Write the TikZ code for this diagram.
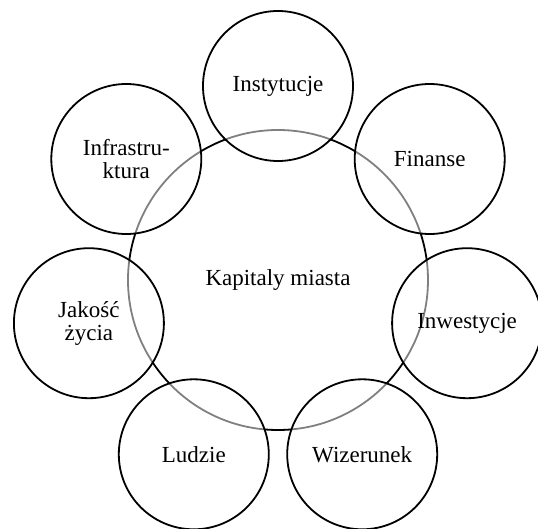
\documentclass[tikz,border=0pt]{standalone}
\usepackage{fontspec}
\setmainfont{Liberation Serif}
\usepackage{tikz}

\tikzset{
  ring/.style={circle, draw=black, line width=1.8pt, minimum size=300pt, inner sep=0pt},
  part/.style={circle, draw=black, line width=1.8pt, minimum size=150pt, inner sep=0pt,
    fill=white, fill opacity=0.5, text opacity=1, align=center},
}

\begin{document}
\begin{tikzpicture}[x=1pt, y=-1pt, font=\fontsize{23}{23}\selectfont]
\useasboundingbox (0,0) rectangle (538,529); %page

\node[ring] (kapitaly) at (278,280) {Kapitaly miasta}; %big circle behind

\node[part] (instytucje) at (278,86) {Instytucje};
\node[part] (finanse) at (429.7,159) {Finanse};
\node[part] (inwestycje) at (467.1,323.2) {Inwestycje};
\node[part] (wizerunek) at (362.2,454.3) {Wizerunek};
\node[part] (ludzie) at (193.8,454.3) {Ludzie};
\node[part] (jakosc) at (88.9,323.2) {Jakość\\życia};
\node[part] (infrastruktura) at (126.3,159) {Infrastru-\\ktura};

\end{tikzpicture}
\end{document}
